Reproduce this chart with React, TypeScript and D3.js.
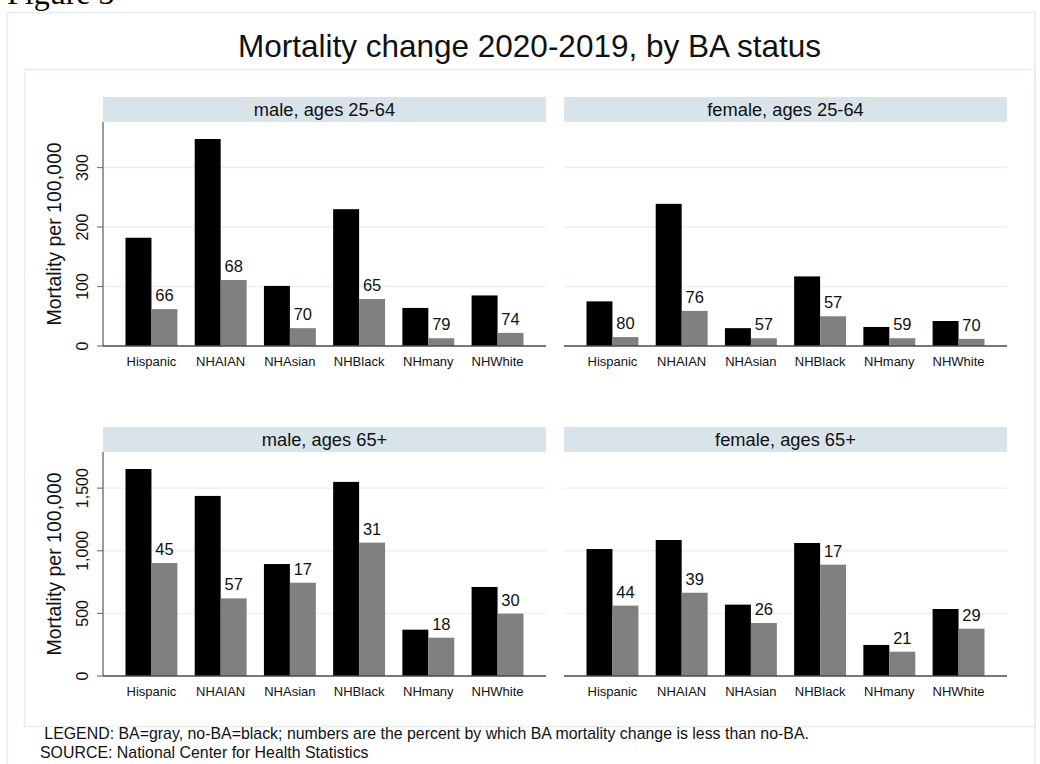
import * as d3 from 'd3';

const groups = ['Hispanic', 'NHAIAN', 'NHAsian', 'NHBlack', 'NHmany', 'NHWhite'];

// mortality change per 100,000, no-BA (black) and BA (gray)
const male2564NoBA = [182, 348, 101, 230, 64, 85];
const male2564BA = [62, 111, 30, 79, 13, 22];
const male2564Pct = [66, 68, 70, 65, 79, 74];

const female2564NoBA = [75, 239, 30, 117, 32, 42];
const female2564BA = [15, 59, 13, 50, 13, 12];
const female2564Pct = [80, 76, 57, 57, 59, 70];

const male65NoBA = [1653, 1438, 894, 1550, 370, 711];
const male65BA = [902, 620, 745, 1065, 306, 498];
const male65Pct = [45, 57, 17, 31, 18, 30];

const female65NoBA = [1014, 1086, 570, 1062, 248, 535];
const female65BA = [562, 665, 423, 889, 194, 378];
const female65Pct = [44, 39, 26, 17, 21, 29];

const youngTicks = [0, 100, 200, 300];
const oldTicks = [0, 500, 1000, 1500];

const FONT = '"Liberation Sans", Arial, Helvetica, sans-serif';
const fmt = d3.format(',');

const cols = [
  { x0: 103, x1: 546 },
  { x0: 564, x1: 1007 },
];

const rows = [
  { headTop: 97, headBottom: 122, base: 346, labelY: 365.5, ticks: youngTicks },
  { headTop: 427, headBottom: 452, base: 676, labelY: 695.5, ticks: oldTicks },
];

const panels = [
  { title: 'male, ages 25-64', noBA: male2564NoBA, ba: male2564BA, pct: male2564Pct, row: 0, col: 0 },
  { title: 'female, ages 25-64', noBA: female2564NoBA, ba: female2564BA, pct: female2564Pct, row: 0, col: 1 },
  { title: 'male, ages 65+', noBA: male65NoBA, ba: male65BA, pct: male65Pct, row: 1, col: 0 },
  { title: 'female, ages 65+', noBA: female65NoBA, ba: female65BA, pct: female65Pct, row: 1, col: 1 },
];

function rowScale(r: number) {
  const row = rows[r];
  const rowMax = d3.max(panels.filter((p) => p.row === r).flatMap((p) => p.noBA)) as number;
  return d3.scaleLinear().domain([0, rowMax]).range([row.base, row.headBottom + 17]);
}

function Panel({ p }: { p: (typeof panels)[number] }) {
  const row = rows[p.row];
  const col = cols[p.col];
  const y = rowScale(p.row);
  const x = d3.scaleBand<string>().domain(groups).range([col.x0, col.x1]).paddingInner(0.25).paddingOuter(0.325);
  const sub = d3.scaleBand<string>().domain(['noBA', 'BA']).range([0, x.bandwidth()]);
  const mid = (col.x0 + col.x1) / 2;

  return (
    <g>
      <rect x={col.x0} y={row.headTop} width={col.x1 - col.x0} height={row.headBottom - row.headTop} fill="#d8e4ea" />
      <text x={mid} y={row.headTop + 18.7} textAnchor="middle" fontSize={18.3} fill="#111">
        {p.title}
      </text>

      {row.ticks.slice(1).map((t) => (
        <line key={t} x1={col.x0} x2={col.x1} y1={y(t)} y2={y(t)} stroke="#e9f1f3" strokeWidth={1.5} />
      ))}

      {p.col === 0 && (
        <g>
          <line x1={col.x0} x2={col.x0} y1={row.headBottom} y2={row.base} stroke="#7a7a7a" strokeWidth={1.5} />
          {row.ticks.map((t) => (
            <g key={t}>
              <line x1={col.x0 - 6} x2={col.x0} y1={y(t)} y2={y(t)} stroke="#7a7a7a" strokeWidth={1.2} />
              <text
                transform={`translate(${col.x0 - 15.5},${y(t)}) rotate(-90)`}
                textAnchor="middle"
                fontSize={16}
                fill="#111"
              >
                {fmt(t)}
              </text>
            </g>
          ))}
          <text
            transform={`translate(61,${(row.headBottom + row.base) / 2}) rotate(-90)`}
            textAnchor="middle"
            fontSize={19.5}
            fill="#111"
          >
            Mortality per 100,000
          </text>
        </g>
      )}

      {groups.map((g, i) => {
        const gx = x(g) as number;
        const bx = gx + (sub('BA') as number);
        return (
          <g key={g}>
            <rect x={gx + (sub('noBA') as number)} y={y(p.noBA[i])} width={sub.bandwidth()} height={row.base - y(p.noBA[i])} fill="#000" />
            <rect x={bx} y={y(p.ba[i])} width={sub.bandwidth()} height={row.base - y(p.ba[i])} fill="#808080" />
            <text x={bx + sub.bandwidth() / 2} y={y(p.ba[i]) - 8} textAnchor="middle" fontSize={16.5} fill="#111">
              {p.pct[i]}
            </text>
            <text x={gx + x.bandwidth() / 2} y={row.labelY} textAnchor="middle" fontSize={13} fill="#111">
              {g}
            </text>
          </g>
        );
      })}

      <line x1={col.x0} x2={col.x1} y1={row.base} y2={row.base} stroke="#4a4a4a" strokeWidth={1.5} />
    </g>
  );
}

export default function App() {
  return (
    <div style={{ position: 'absolute', left: 0, top: 0 }}>
      <svg width={1040} height={764} style={{ display: 'block', background: '#fff' }} fontFamily={FONT}>
        <text x={7} y={4} fontFamily='"Liberation Serif", "Times New Roman", serif' fontSize={32} fill="#000">
          Figure 3
        </text>
        <rect x={7.5} y={12.5} width={1027.5} height={800} fill="none" stroke="#e4edf0" strokeWidth={1.5} />
        <rect x={24.5} y={69.5} width={1010.5} height={657} fill="none" stroke="#e4edf0" strokeWidth={1.5} />

        <text x={529.5} y={57} textAnchor="middle" fontSize={31.5} fill="#111">
          Mortality change 2020-2019, by BA status
        </text>

        {panels.map((p) => (
          <Panel key={p.title} p={p} />
        ))}

        <text x={44.3} y={739} fontSize={15.9} fill="#111">
          LEGEND: BA=gray, no-BA=black; numbers are the percent by which BA mortality change is less than no-BA.
        </text>
        <text x={40} y={758} fontSize={15.9} fill="#111">
          SOURCE: National Center for Health Statistics
        </text>
      </svg>
    </div>
  );
}
